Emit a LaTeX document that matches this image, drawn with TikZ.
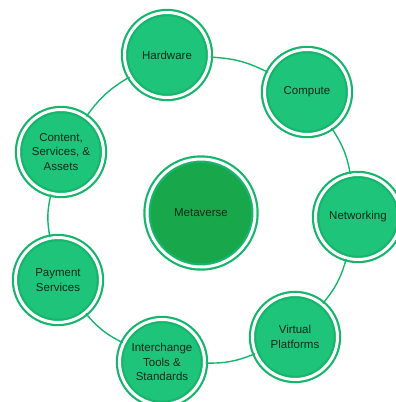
\documentclass[tikz,border=0pt]{standalone}
\usepackage{fontspec}
\setmainfont{Liberation Sans}
\usepackage{tikz}
\usetikzlibrary{arrows, calc, positioning}

\definecolor{leafgreen}{HTML}{1DC47A}
\definecolor{ringgreen}{HTML}{17B56C}
\definecolor{coregreen}{HTML}{18A74B}
\definecolor{inkgreen}{HTML}{0E2A18}

\begin{document}
\begin{tikzpicture}[x=1pt, y=-1pt,
		layer/.style={circle, fill=leafgreen, draw=ringgreen, line width=2.2pt, double=white, double distance=3pt, minimum size=85pt, inner sep=0pt, align=center, text=inkgreen, font=\fontsize{11.5}{14.5}\selectfont},
		link/.style={draw=ringgreen, line width=1.4pt, bend left=12}]
		\useasboundingbox (0,0) rectangle (396,402);
		% centre
		\node[layer, fill=coregreen, minimum size=108pt] (meta) at (201,213) {Metaverse};
		% the seven layers round it
		\node[layer] (hard) at (167,55) {Hardware};
		\node[layer] (comp) at (307,92) {Compute};
		\node[layer] (net) at (358,217) {Networking};
		\node[layer] (virt) at (295,337) {Virtual\\Platforms};
		\node[layer] (inter) at (162,362) {Interchange\\Tools \&\\Standards};
		\node[layer] (pay) at (58,280) {Payment\\Services};
		\node[layer] (cont) at (61,152) {Content,\\Services, \&\\Assets};
		\foreach \a/\b in {hard/comp, comp/net, net/virt, virt/inter, inter/pay, pay/cont, cont/hard}
			\draw[link] (\a) to (\b);
	\end{tikzpicture}
\end{document}
